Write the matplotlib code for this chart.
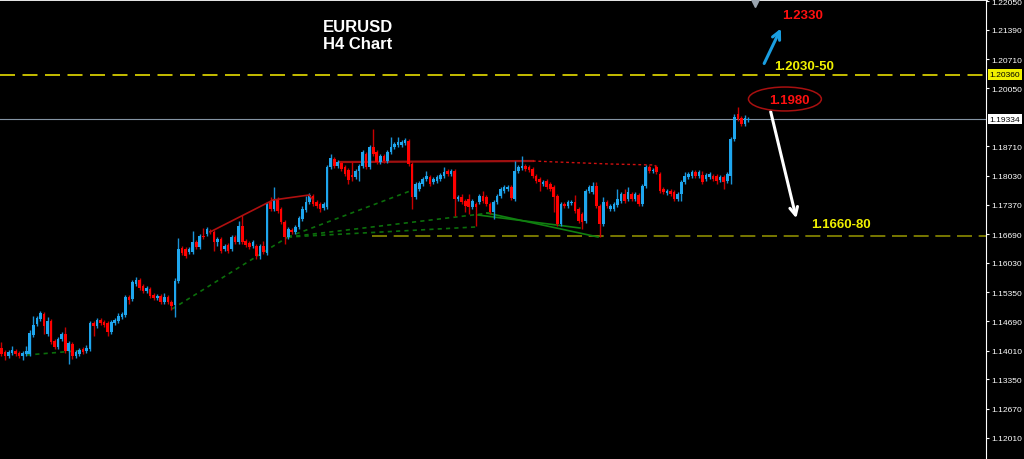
import numpy as np
import matplotlib
matplotlib.use("Agg")
import matplotlib.pyplot as plt
from matplotlib.patches import Ellipse

# EURUSD H4 candles (oldest first)
opens = [
    1.14073, 1.13981, 1.13889, 1.13958, 1.14004, 1.13958, 1.13889, 1.13935, 1.13935, 1.14372,
    1.14625, 1.14740, 1.14855, 1.14395, 1.14694, 1.14234, 1.14096, 1.14280, 1.14395, 1.14004,
    1.14165, 1.13889, 1.13935, 1.14050, 1.14004, 1.14050, 1.14648, 1.14579, 1.14717, 1.14671,
    1.14648, 1.14441, 1.14648, 1.14694, 1.14786, 1.14832, 1.15246, 1.15200, 1.15545, 1.15637,
    1.15499, 1.15384, 1.15430, 1.15292, 1.15223, 1.15269, 1.15131, 1.15246, 1.15131, 1.15062,
    1.15614, 1.16373, 1.16350, 1.16281, 1.16281, 1.16511, 1.16396, 1.16649, 1.16695, 1.16764,
    1.16741, 1.16511, 1.16580, 1.16350, 1.16442, 1.16350, 1.16626, 1.16511, 1.16879, 1.16534,
    1.16488, 1.16419, 1.16419, 1.16189, 1.16419, 1.16258, 1.17431, 1.17270, 1.17500, 1.17270,
    1.16971, 1.16626, 1.16787, 1.16741, 1.16856, 1.17040, 1.17247, 1.17431, 1.17569, 1.17431,
    1.17385, 1.17293, 1.17316, 1.18236, 1.18420, 1.18259, 1.18328, 1.18236, 1.18167, 1.18052,
    1.18006, 1.18144, 1.18259, 1.18535, 1.18236, 1.18696, 1.18581, 1.18351, 1.18489, 1.18374,
    1.18581, 1.18696, 1.18742, 1.18742, 1.18788, 1.18834, 1.18305, 1.17546, 1.17730, 1.17845,
    1.17960, 1.18006, 1.17891, 1.17914, 1.17960, 1.18029, 1.18144, 1.18075, 1.18144, 1.17500,
    1.17546, 1.17454, 1.17500, 1.17316, 1.17385, 1.17431, 1.17569, 1.17546, 1.17385, 1.17201,
    1.17431, 1.17569, 1.17684, 1.17730, 1.17776, 1.17500, 1.18144, 1.18213, 1.18259, 1.18236,
    1.18190, 1.18029, 1.17960, 1.17845, 1.17914, 1.17845, 1.17776, 1.17569, 1.16925, 1.17385,
    1.17339, 1.17408, 1.17431, 1.17270, 1.17155, 1.16994, 1.17684, 1.17661, 1.17799, 1.17339,
    1.16925, 1.17431, 1.17270, 1.17270, 1.17362, 1.17454, 1.17615, 1.17500, 1.17615, 1.17500,
    1.17592, 1.17385, 1.17799, 1.18236, 1.18144, 1.18236, 1.18075, 1.17730, 1.17638, 1.17684,
    1.17661, 1.17500, 1.17615, 1.17891, 1.18006, 1.18029, 1.18121, 1.18029, 1.18052, 1.17960,
    1.18006, 1.18029, 1.18029, 1.17937, 1.18006, 1.17914, 1.18029, 1.18880, 1.19455, 1.19363,
    1.19225, 1.19317,
]
highs = [
    1.14211, 1.14027, 1.14027, 1.14119, 1.14050, 1.14004, 1.14004, 1.14119, 1.14487, 1.14809,
    1.14809, 1.14924, 1.14901, 1.14786, 1.14740, 1.14280, 1.14326, 1.14441, 1.14556, 1.14234,
    1.14211, 1.14027, 1.14073, 1.14096, 1.14142, 1.14694, 1.14694, 1.14763, 1.14763, 1.14717,
    1.14694, 1.14717, 1.14763, 1.14878, 1.14901, 1.15292, 1.15292, 1.15637, 1.15706, 1.15683,
    1.15545, 1.15499, 1.15476, 1.15338, 1.15315, 1.15315, 1.15338, 1.15292, 1.15177, 1.15683,
    1.16603, 1.16419, 1.16396, 1.16396, 1.16764, 1.16557, 1.16695, 1.16833, 1.16856, 1.16810,
    1.16787, 1.16626, 1.16626, 1.16465, 1.16488, 1.16672, 1.16672, 1.16994, 1.17132, 1.16580,
    1.16534, 1.16557, 1.16465, 1.16465, 1.16534, 1.17431, 1.17546, 1.17776, 1.17546, 1.17316,
    1.17017, 1.16856, 1.16833, 1.16902, 1.17109, 1.17339, 1.17569, 1.17638, 1.17615, 1.17477,
    1.17431, 1.17431, 1.18282, 1.18535, 1.18466, 1.18397, 1.18374, 1.18282, 1.18213, 1.18374,
    1.18190, 1.18305, 1.18627, 1.18581, 1.18742, 1.19110, 1.18627, 1.18535, 1.18535, 1.18627,
    1.18926, 1.18811, 1.18926, 1.18857, 1.18903, 1.18880, 1.18351, 1.17891, 1.17914, 1.18006,
    1.18144, 1.18052, 1.18006, 1.18052, 1.18098, 1.18236, 1.18190, 1.18190, 1.18190, 1.17592,
    1.17615, 1.17500, 1.17615, 1.17500, 1.17431, 1.17615, 1.17684, 1.17592, 1.17431, 1.17477,
    1.17615, 1.17776, 1.17822, 1.17822, 1.17822, 1.18374, 1.18282, 1.18489, 1.18305, 1.18282,
    1.18236, 1.18075, 1.18006, 1.17937, 1.17960, 1.17891, 1.17822, 1.17615, 1.17431, 1.17431,
    1.17477, 1.17477, 1.17592, 1.17316, 1.17201, 1.17730, 1.17822, 1.17891, 1.17891, 1.17385,
    1.17546, 1.17477, 1.17385, 1.17431, 1.17730, 1.17661, 1.17730, 1.17776, 1.17661, 1.17661,
    1.17638, 1.17845, 1.18282, 1.18282, 1.18213, 1.18282, 1.18121, 1.17776, 1.17730, 1.17730,
    1.17707, 1.17661, 1.17937, 1.18121, 1.18121, 1.18167, 1.18167, 1.18167, 1.18144, 1.18098,
    1.18121, 1.18075, 1.18075, 1.18052, 1.18052, 1.18121, 1.18926, 1.19455, 1.19616, 1.19409,
    1.19432, 1.19386,
]
lows = [
    1.13889, 1.13797, 1.13843, 1.13912, 1.13889, 1.13843, 1.13797, 1.13889, 1.13889, 1.14326,
    1.14579, 1.14694, 1.14395, 1.14349, 1.14165, 1.14050, 1.14050, 1.14234, 1.13958, 1.13705,
    1.13820, 1.13843, 1.13889, 1.13935, 1.13958, 1.14004, 1.14349, 1.14533, 1.14602, 1.14556,
    1.14349, 1.14395, 1.14602, 1.14648, 1.14740, 1.14786, 1.15085, 1.15154, 1.15499, 1.15407,
    1.15338, 1.15338, 1.15223, 1.15177, 1.15177, 1.15085, 1.15085, 1.15085, 1.14947, 1.14786,
    1.15568, 1.16212, 1.16143, 1.16235, 1.16235, 1.16350, 1.16350, 1.16580, 1.16649, 1.16695,
    1.16304, 1.16419, 1.16258, 1.16304, 1.16258, 1.16304, 1.16465, 1.16465, 1.16465, 1.16396,
    1.16350, 1.16373, 1.16120, 1.16120, 1.16235, 1.16212, 1.17224, 1.17224, 1.17178, 1.16925,
    1.16465, 1.16580, 1.16695, 1.16695, 1.16810, 1.16994, 1.17201, 1.17385, 1.17339, 1.17293,
    1.17201, 1.17247, 1.17270, 1.18190, 1.18213, 1.18213, 1.18144, 1.18029, 1.17845, 1.17914,
    1.17960, 1.17914, 1.18213, 1.18190, 1.18190, 1.18489, 1.18305, 1.18305, 1.18328, 1.18328,
    1.18535, 1.18650, 1.18696, 1.18696, 1.18742, 1.18259, 1.17270, 1.17500, 1.17684, 1.17799,
    1.17914, 1.17799, 1.17845, 1.17868, 1.17914, 1.17983, 1.18029, 1.18029, 1.17109, 1.17454,
    1.17385, 1.17201, 1.17155, 1.17270, 1.16879, 1.17385, 1.17408, 1.17339, 1.17155, 1.17040,
    1.17385, 1.17523, 1.17638, 1.17684, 1.17477, 1.17454, 1.18098, 1.18167, 1.18144, 1.18121,
    1.17983, 1.17868, 1.17684, 1.17799, 1.17730, 1.17684, 1.17201, 1.16879, 1.16879, 1.17293,
    1.17293, 1.17362, 1.17178, 1.16948, 1.16810, 1.16948, 1.17638, 1.17615, 1.17293, 1.16626,
    1.16879, 1.17293, 1.17224, 1.17224, 1.17316, 1.17408, 1.17408, 1.17454, 1.17454, 1.17454,
    1.17339, 1.17339, 1.17753, 1.18098, 1.18098, 1.18075, 1.17638, 1.17615, 1.17592, 1.17569,
    1.17454, 1.17454, 1.17454, 1.17845, 1.17960, 1.17983, 1.17983, 1.17983, 1.17845, 1.17914,
    1.17960, 1.17914, 1.17845, 1.17891, 1.17730, 1.17868, 1.17845, 1.18834, 1.19294, 1.19179,
    1.19179, 1.19271,
]
closes = [
    1.13935, 1.13889, 1.13981, 1.14027, 1.13935, 1.13889, 1.13958, 1.14004, 1.14418, 1.14602,
    1.14763, 1.14878, 1.14579, 1.14694, 1.14211, 1.14096, 1.14280, 1.14395, 1.14004, 1.14188,
    1.13889, 1.13981, 1.14027, 1.13981, 1.14073, 1.14648, 1.14579, 1.14717, 1.14648, 1.14602,
    1.14441, 1.14671, 1.14717, 1.14809, 1.14855, 1.15246, 1.15177, 1.15591, 1.15637, 1.15453,
    1.15384, 1.15453, 1.15269, 1.15223, 1.15269, 1.15131, 1.15246, 1.15131, 1.15039, 1.15614,
    1.16350, 1.16258, 1.16189, 1.16350, 1.16511, 1.16396, 1.16649, 1.16626, 1.16810, 1.16741,
    1.16511, 1.16580, 1.16304, 1.16419, 1.16304, 1.16626, 1.16511, 1.16879, 1.16511, 1.16442,
    1.16396, 1.16511, 1.16189, 1.16419, 1.16281, 1.17385, 1.17270, 1.17500, 1.17224, 1.16971,
    1.16626, 1.16810, 1.16741, 1.16856, 1.17063, 1.17270, 1.17431, 1.17592, 1.17385, 1.17339,
    1.17270, 1.17385, 1.18236, 1.18443, 1.18259, 1.18351, 1.18190, 1.18075, 1.17937, 1.18006,
    1.18144, 1.18259, 1.18581, 1.18236, 1.18696, 1.18535, 1.18351, 1.18489, 1.18374, 1.18581,
    1.18696, 1.18765, 1.18811, 1.18811, 1.18857, 1.18305, 1.17546, 1.17845, 1.17868, 1.17960,
    1.18029, 1.17845, 1.17960, 1.18006, 1.18052, 1.18121, 1.18075, 1.18144, 1.17500, 1.17546,
    1.17431, 1.17339, 1.17316, 1.17454, 1.17316, 1.17569, 1.17454, 1.17385, 1.17201, 1.17431,
    1.17569, 1.17730, 1.17776, 1.17776, 1.17523, 1.18144, 1.18236, 1.18259, 1.18190, 1.18167,
    1.18029, 1.17914, 1.17891, 1.17891, 1.17776, 1.17730, 1.17546, 1.16925, 1.17385, 1.17339,
    1.17431, 1.17431, 1.17224, 1.16994, 1.16971, 1.17684, 1.17776, 1.17799, 1.17339, 1.16925,
    1.17431, 1.17339, 1.17339, 1.17385, 1.17500, 1.17615, 1.17454, 1.17661, 1.17500, 1.17615,
    1.17385, 1.17799, 1.18236, 1.18144, 1.18167, 1.18121, 1.17684, 1.17661, 1.17684, 1.17615,
    1.17500, 1.17615, 1.17891, 1.18029, 1.18075, 1.18121, 1.18029, 1.18121, 1.17891, 1.18052,
    1.18075, 1.17960, 1.17914, 1.18006, 1.17891, 1.18075, 1.18880, 1.19386, 1.19340, 1.19225,
    1.19363, 1.19334,
]

price_ticks = [1.22050, 1.21390, 1.20710, 1.20050, 1.18710, 1.18030, 1.17370, 1.16690,
               1.16030, 1.15350, 1.14690, 1.14010, 1.13350, 1.12670, 1.12010]
resistance = 1.20360
support = 1.16650
last_price = 1.19334

BULL = '#1ea6ee'
BEAR = '#ff0000'

o = np.array(opens)
h = np.array(highs)
l = np.array(lows)
c = np.array(closes)
x = np.arange(len(o))
up = c >= o
colors = np.where(up, BULL, BEAR)
wick_colors = np.where(up, '#1a94d8', '#c80000')

fig = plt.figure(figsize=(10.24, 4.6), dpi=100, facecolor='black')
ax = fig.add_axes([0, 0, 986 / 1024, 1])
ax.set_facecolor('black')

ax.vlines(x, l, h, colors=wick_colors, linewidth=1.0, zorder=3)
ax.bar(x, np.maximum(np.abs(c - o), 0.00018), bottom=np.minimum(o, c), width=0.74,
       color=colors, linewidth=0, zorder=4)

ax.set_xlim(-0.42, 278.1)
ax.set_ylim(1.1152, 1.2210)

# levels
ax.axhline(resistance, color='#e6dc00', lw=1.2, linestyle=(0, (9, 4.5)), zorder=2)
ax.hlines(support, 104.7, 278.1, color='#8c8c00', lw=1.2, linestyle=(0, (9, 4)), zorder=2)
ax.axhline(last_price, color='#8494a4', lw=0.8, zorder=2)

# trend lines
ax.plot([58.9, 76.7, 86.9, 88.0], [1.16741, 1.17477, 1.17592, 1.17477], color='#b01010', lw=1.2, zorder=5)
ax.plot([95.6, 150.1], [1.18351, 1.18374], color='#a01010', lw=1.6, zorder=2)
ax.plot([150.1, 156.9, 171.9, 184.6, 184.8], [1.18374, 1.18351, 1.18305, 1.18282, 1.18236],
        color='#d01010', lw=1.0, linestyle=(0, (2, 2)), zorder=2)
green_dotted = [
    ([7.2, 24.2], [1.13912, 1.14027]),
    ([48.2, 80.9], [1.14970, 1.16626]),
    ([80.9, 115.4], [1.16626, 1.17684]),
    ([80.9, 133.8], [1.16626, 1.16856]),
    ([80.9, 137.9], [1.16626, 1.17178]),
]
for gx, gy in green_dotted:
    ax.plot(gx, gy, color='#0b6e0b', lw=1.2, linestyle=(0, (2.5, 2.5)), zorder=2)
ax.plot([134.6, 163.4], [1.17132, 1.16833], color='#108010', lw=1.2, zorder=2)
ax.plot([137.1, 168.5], [1.17178, 1.16626], color='#108010', lw=1.2, zorder=2)

# annotations
bold = dict(family='Liberation Sans', weight='bold')
ax.annotate('', xy=(220.5, 1.21479), xytext=(215.1, 1.20559),
            arrowprops=dict(arrowstyle='->', color='#1a9ee0', lw=2.2, mutation_scale=14))
ax.annotate('', xy=(224.7, 1.16994), xytext=(217.1, 1.19570),
            arrowprops=dict(arrowstyle='->', color='white', lw=2.2, mutation_scale=14))
ax.add_patch(Ellipse((221.3, 1.1980), 20.6, 0.0055, fill=False, edgecolor='#a81010', lw=1.1, zorder=6))
ax.text(226.4, 1.21732, '1.2330', color='#ff1010', fontsize=9.5, ha='center', va='center', **bold)
ax.text(226.7, 1.20548, '1.2030-50', color='#f0f000', fontsize=9.5, ha='center', va='center', **bold)
ax.text(222.5, 1.19777, '1.1980', color='#ff1010', fontsize=9.5, ha='center', va='center', **bold)
ax.text(237.1, 1.16925, '1.1660-80', color='#f0f000', fontsize=9.5, ha='center', va='center', **bold)
ax.plot([212.9], [1.2204], marker='v', color='#9aa4ae', markersize=7, clip_on=False, zorder=7)

fig.text(358 / 1024, 1 - 27 / 460, 'EURUSD', color='white', fontsize=12, ha='center', va='center', **bold)
fig.text(358 / 1024, 1 - 44.5 / 460, 'H4 Chart', color='white', fontsize=12, ha='center', va='center', **bold)

# price axis
ax.yaxis.tick_right()
ax.set_yticks(price_ticks)
ax.set_yticklabels([f"{v:.5f}" for v in price_ticks])
ax.tick_params(axis='y', colors='white', labelcolor='white', length=2.5, width=0.8,
               labelsize=6.1, pad=1.5)
for lab in ax.get_yticklabels():
    lab.set_family('Liberation Sans')
ax.set_xticks([])
for side in ['left', 'bottom']:
    ax.spines[side].set_visible(False)
ax.spines['right'].set_color('white')
ax.spines['top'].set_color('white')
ax.spines['top'].set_linewidth(2)

for val, bg in [(resistance, '#f0f000'), (last_price, 'white')]:
    ax.text(1.0035, val, f"{val:.5f}", transform=ax.get_yaxis_transform(), color='black',
            fontsize=6.1, family='Liberation Sans', va='center', ha='left', clip_on=False,
            bbox=dict(facecolor=bg, edgecolor='none', pad=1.2), zorder=8)

fig.savefig('out.png', dpi=100, facecolor='black')
